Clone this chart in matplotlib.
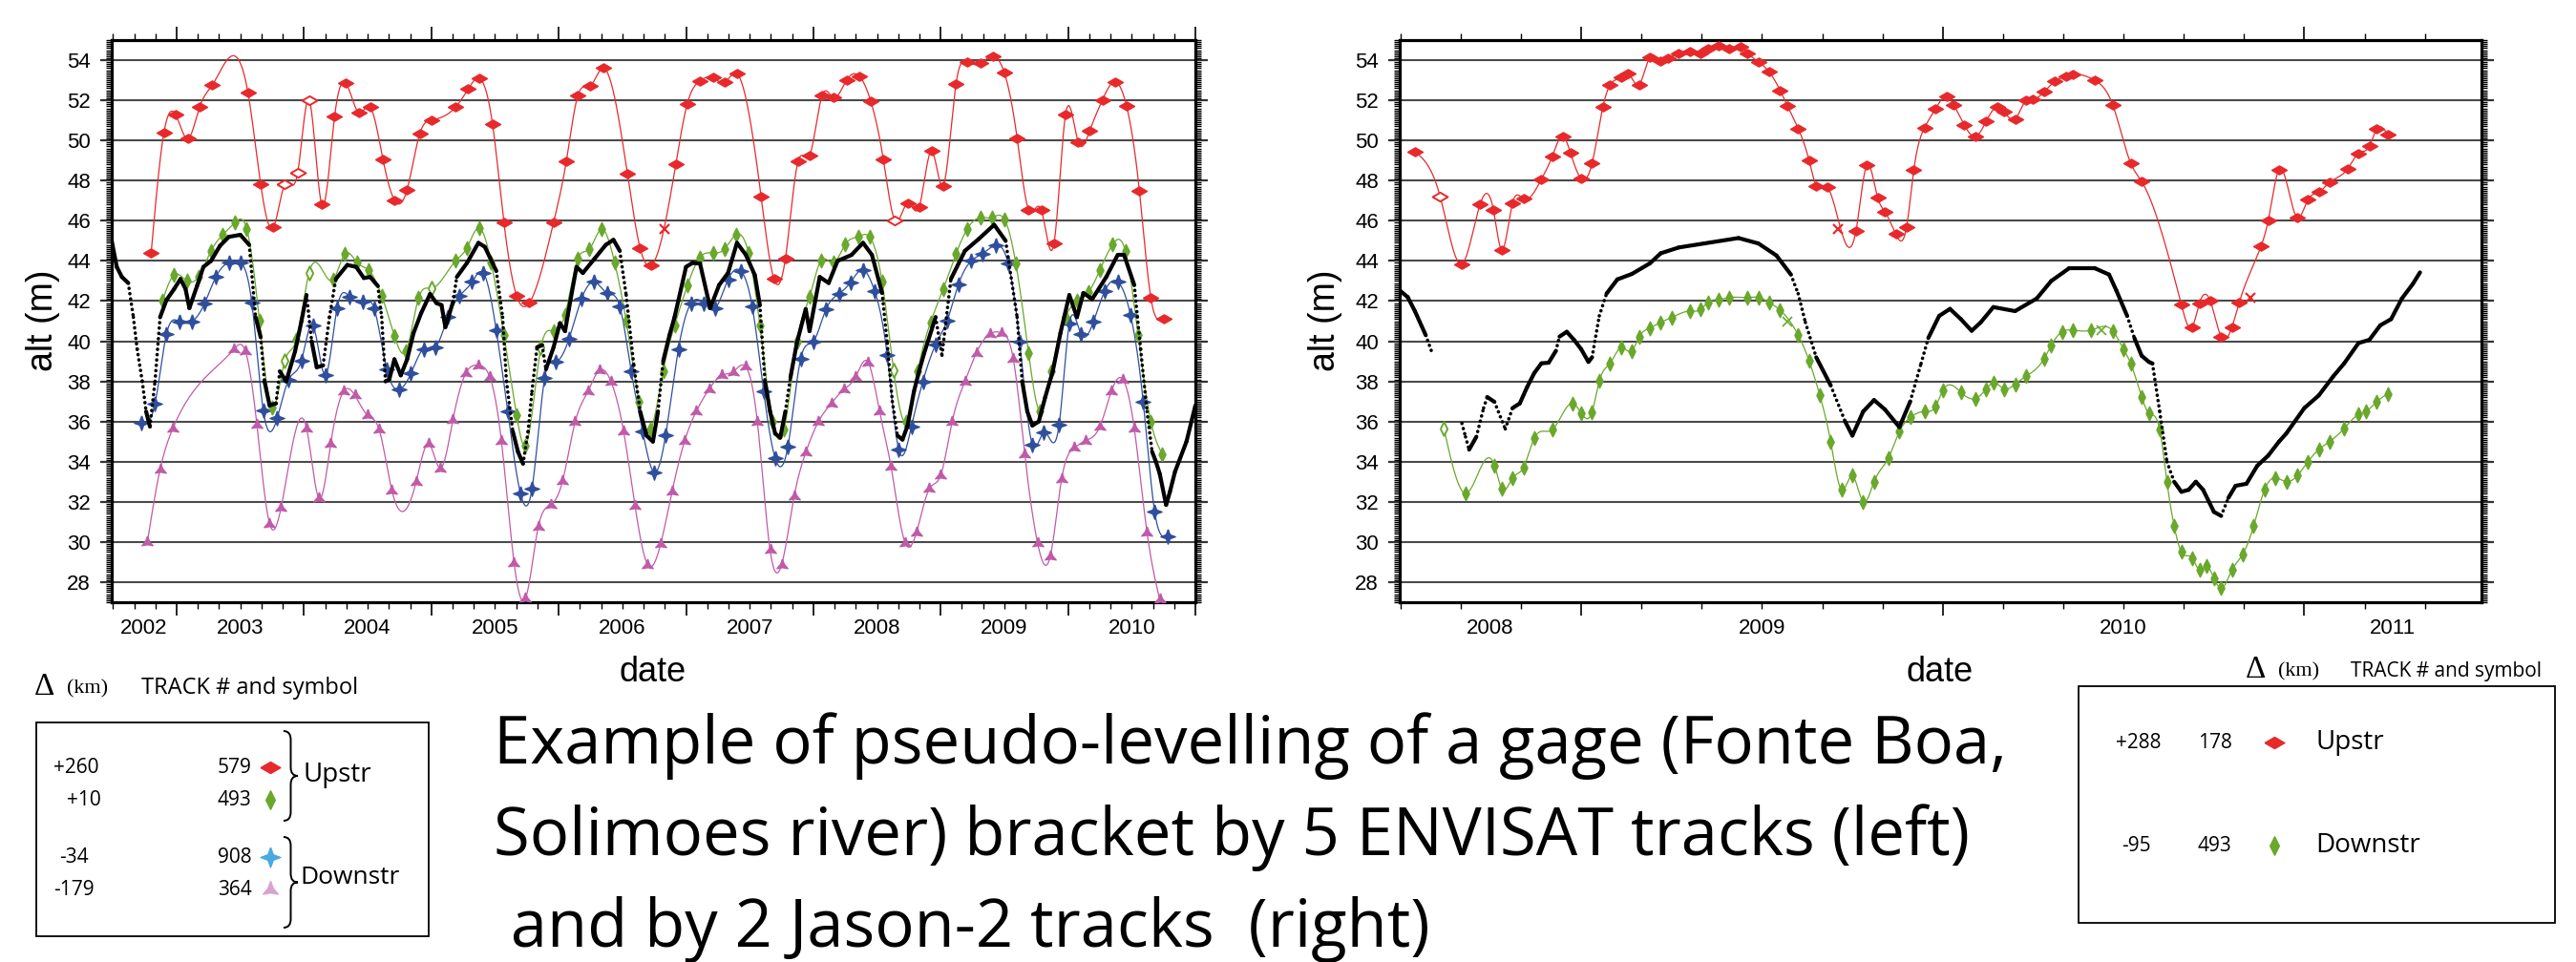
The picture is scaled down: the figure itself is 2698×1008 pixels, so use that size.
import numpy as np
import matplotlib
matplotlib.use("Agg")
import matplotlib.pyplot as plt
from matplotlib.path import Path
from matplotlib.patches import PathPatch, Rectangle
from matplotlib.ticker import MultipleLocator
import matplotlib.transforms as mtransforms

# ---------------- data (decimal year, altitude m) ----------------
red_L = [(2002.80,44.42),(2002.90,50.39),(2002.99,51.31),(2003.09,50.09),(2003.18,51.66),(2003.28,52.76),(2003.56,52.38),(2003.66,47.82),(2003.76,45.69),(2003.85,47.82),(2003.95,48.38),(2004.04,52.02),(2004.14,46.80),(2004.24,51.18),(2004.33,52.84),(2004.43,51.39),(2004.52,51.66),(2004.62,49.06),(2004.71,47.03),(2004.81,47.56),(2004.91,50.36),(2005.00,51.02),(2005.19,51.66),(2005.29,52.57),(2005.38,53.08),(2005.48,50.83),(2005.57,45.92),(2005.67,42.25),(2005.77,41.92),(2005.96,45.92),(2006.06,48.96),(2006.15,52.23),(2006.25,52.73),(2006.35,53.60),(2006.54,48.33),(2006.64,44.63),(2006.73,43.79),(2006.92,48.82),(2007.01,51.83),(2007.11,52.97),(2007.21,53.13),(2007.30,52.89),(2007.40,53.32),(2007.59,47.19),(2007.69,43.11),(2007.78,44.10),(2007.88,48.96),(2007.97,49.25),(2008.07,52.26),(2008.16,52.13),(2008.26,53.00),(2008.36,53.21),(2008.45,51.97),(2008.55,49.04),(2008.64,46.03),(2008.74,46.87),(2008.83,46.68),(2008.93,49.47),(2009.02,47.75),(2009.12,52.81),(2009.21,53.89),(2009.31,53.84),(2009.41,54.19),(2009.50,53.37),(2009.60,50.12),(2009.69,46.56),(2009.79,46.53),(2009.89,44.89),(2009.98,51.28),(2010.08,49.93),(2010.17,50.48),(2010.27,52.02),(2010.37,52.92),(2010.46,51.70),(2010.56,47.51),(2010.65,42.17),(2010.75,41.13)]
red_L_hollow = [2003.85, 2003.95, 2004.04, 2008.64]
red_L_cross = [(2006.83, 45.61)]

green_L = [(2002.89,42.04),(2002.98,43.31),(2003.08,43.0),(2003.17,43.2),(2003.27,44.50),(2003.36,45.29),(2003.46,45.92),(2003.55,45.60),(2003.65,41.02),(2003.75,36.70),(2003.85,39.04),(2003.94,40.07),(2004.04,43.42),(2004.23,43.07),(2004.32,44.34),(2004.42,43.90),(2004.51,43.52),(2004.61,42.28),(2004.71,40.27),(2004.80,39.51),(2004.90,42.15),(2005.00,42.63),(2005.19,44.0),(2005.28,44.66),(2005.38,45.64),(2005.47,43.90),(2005.57,40.3),(2005.67,36.3),(2005.74,34.8),(2005.86,39.67),(2005.96,40.5),(2006.05,41.33),(2006.15,44.10),(2006.24,44.58),(2006.34,45.58),(2006.44,43.9),(2006.53,41.02),(2006.63,37.0),(2006.72,35.6),(2006.82,38.5),(2006.91,40.78),(2007.01,42.76),(2007.11,44.18),(2007.21,44.4),(2007.30,44.58),(2007.39,45.29),(2007.49,44.42),(2007.58,40.78),(2007.68,36.0),(2007.77,35.6),(2007.87,39.99),(2007.97,42.2),(2008.06,44.02),(2008.16,43.90),(2008.25,44.82),(2008.35,45.21),(2008.44,45.21),(2008.54,42.95),(2008.63,38.56),(2008.73,36.0),(2008.82,38.5),(2008.92,40.94),(2009.02,42.6),(2009.12,44.34),(2009.21,45.61),(2009.31,46.16),(2009.40,46.16),(2009.50,46.08),(2009.59,43.87),(2009.69,39.43),(2009.78,36.5),(2009.87,38.5),(2009.98,41.2),(2010.07,42.0),(2010.16,42.44),(2010.25,43.55),(2010.35,44.82),(2010.45,44.50),(2010.55,40.30),(2010.65,36.0),(2010.74,34.37)]
green_L_hollow = [2003.85, 2004.04, 2005.00, 2005.86, 2008.63]

blue_L = [(2002.72,35.94),(2002.83,36.89),(2002.92,40.35),(2003.02,40.98),(2003.12,40.98),(2003.22,41.89),(2003.31,43.23),(2003.41,43.94),(2003.50,43.94),(2003.59,41.93),(2003.68,36.56),(2003.79,36.18),(2003.88,38.09),(2003.98,39.04),(2004.07,40.78),(2004.17,38.32),(2004.26,41.65),(2004.36,42.20),(2004.46,41.97),(2004.55,41.65),(2004.65,38.6),(2004.75,37.6),(2004.84,38.4),(2004.94,39.62),(2005.03,39.67),(2005.13,41.20),(2005.22,42.25),(2005.32,42.95),(2005.41,43.39),(2005.51,40.54),(2005.60,36.5),(2005.70,32.42),(2005.79,32.64),(2005.89,38.16),(2005.98,39.0),(2006.08,40.10),(2006.18,42.12),(2006.28,42.95),(2006.38,42.4),(2006.48,41.73),(2006.57,38.5),(2006.66,35.5),(2006.75,33.47),(2006.84,35.32),(2006.94,39.6),(2007.04,41.89),(2007.14,41.89),(2007.23,41.65),(2007.33,43.07),(2007.43,43.50),(2007.52,41.73),(2007.61,37.5),(2007.70,34.18),(2007.80,34.75),(2007.90,39.12),(2008.00,39.99),(2008.10,41.60),(2008.20,42.36),(2008.29,42.92),(2008.39,43.55),(2008.48,42.52),(2008.58,39.30),(2008.67,34.61),(2008.77,35.75),(2008.86,38.0),(2008.96,39.83),(2009.05,41.02),(2009.14,42.84),(2009.24,44.00),(2009.33,44.37),(2009.43,44.77),(2009.53,43.87),(2009.62,39.99),(2009.72,34.85),(2009.81,35.47),(2009.93,35.85),(2010.01,40.86),(2010.10,40.38),(2010.20,40.98),(2010.29,42.52),(2010.39,42.96),(2010.49,41.33),(2010.59,37.0),(2010.68,31.52),(2010.78,30.29)]

pink_L = [(2002.77,30.0),(2002.87,33.61),(2002.97,35.66),(2003.45,39.6),(2003.54,39.5),(2003.63,35.85),(2003.73,30.90),(2003.82,31.71),(2004.02,35.66),(2004.12,32.16),(2004.21,34.89),(2004.31,37.5),(2004.40,37.3),(2004.50,36.3),(2004.59,35.6),(2004.69,32.57),(2004.88,32.98),(2004.98,34.89),(2005.07,33.67),(2005.17,36.1),(2005.27,38.4),(2005.37,38.8),(2005.46,38.2),(2005.55,35.05),(2005.65,28.95),(2005.74,27.2),(2005.84,30.76),(2005.94,31.86),(2006.03,33.02),(2006.13,36.0),(2006.23,37.5),(2006.32,38.56),(2006.41,38.0),(2006.51,35.5),(2006.60,31.78),(2006.70,28.86),(2006.80,29.88),(2006.89,32.5),(2006.99,35.05),(2007.08,36.5),(2007.18,37.6),(2007.28,38.3),(2007.37,38.48),(2007.47,38.72),(2007.56,36.0),(2007.66,29.6),(2007.75,28.86),(2007.85,32.3),(2007.94,34.45),(2008.04,36.0),(2008.14,36.9),(2008.24,37.6),(2008.33,38.2),(2008.43,38.95),(2008.52,36.5),(2008.61,33.75),(2008.72,29.97),(2008.81,30.48),(2008.91,32.64),(2009.00,33.32),(2009.09,36.0),(2009.19,38.0),(2009.28,39.43),(2009.39,40.38),(2009.48,40.41),(2009.57,39.12),(2009.66,34.37),(2009.76,29.97),(2009.86,29.28),(2009.95,33.15),(2010.05,34.70),(2010.14,35.05),(2010.25,35.75),(2010.34,37.5),(2010.43,38.1),(2010.52,35.66),(2010.62,30.48),(2010.72,27.13)]

gage_L = [(2002.49,45.0),(2002.53,43.7),(2002.57,43.2),(2002.62,42.9),(2002.66,41.2),(2002.69,39.6),(2002.73,38.0),(2002.76,36.5),(2002.79,35.75),(2002.83,38.0),(2002.87,41.2),(2002.92,42.05),(2002.98,42.6),(2003.03,43.1),(2003.07,42.6),(2003.10,41.65),(2003.16,42.75),(2003.21,43.7),(2003.27,44.0),(2003.34,44.75),(2003.41,45.2),(2003.50,45.3),(2003.57,44.8),(2003.62,41.2),(2003.66,40.2),(2003.69,38.0),(2003.73,36.8),(2003.78,36.9),(2003.81,38.5),(2003.86,38.0),(2003.93,39.5),(2003.98,41.0),(2004.02,42.3),(2004.06,40.0),(2004.10,38.7),(2004.15,38.8),(2004.20,41.2),(2004.25,43.1),(2004.34,43.8),(2004.41,43.7),(2004.47,43.15),(2004.52,43.2),(2004.58,42.75),(2004.61,41.2),(2004.64,38.0),(2004.67,38.1),(2004.71,39.1),(2004.76,38.3),(2004.81,39.1),(2004.86,40.4),(2004.92,41.4),(2004.99,42.35),(2005.04,41.9),(2005.08,41.8),(2005.11,40.7),(2005.17,41.95),(2005.20,43.2),(2005.28,43.9),(2005.37,44.9),(2005.42,44.7),(2005.51,43.5),(2005.56,41.2),(2005.59,38.0),(2005.64,35.5),(2005.68,34.5),(2005.72,33.9),(2005.76,35.5),(2005.79,37.5),(2005.83,39.7),(2005.87,39.8),(2005.90,38.6),(2005.96,39.7),(2006.01,40.9),(2006.05,40.5),(2006.08,41.6),(2006.14,43.7),(2006.19,43.4),(2006.28,44.1),(2006.37,44.8),(2006.43,45.05),(2006.48,44.5),(2006.53,42.3),(2006.59,38.8),(2006.64,36.5),(2006.69,35.3),(2006.74,35.0),(2006.78,36.5),(2006.82,39.0),(2006.87,40.3),(2006.91,41.2),(2007.00,43.7),(2007.05,43.9),(2007.11,43.87),(2007.19,41.65),(2007.26,42.8),(2007.33,43.4),(2007.40,44.9),(2007.47,44.3),(2007.54,43.3),(2007.58,41.8),(2007.62,38.0),(2007.66,36.5),(2007.70,35.4),(2007.74,35.2),(2007.78,36.5),(2007.82,38.2),(2007.87,39.9),(2007.94,41.6),(2007.97,40.5),(2008.05,43.2),(2008.12,42.9),(2008.19,44.0),(2008.30,44.3),(2008.39,44.9),(2008.46,44.3),(2008.54,42.4),(2008.58,39.9),(2008.62,37.0),(2008.66,35.3),(2008.70,35.1),(2008.74,35.8),(2008.79,37.5),(2008.83,38.5),(2008.87,39.4),(2008.96,41.2),(2009.01,39.3),(2009.08,43.1),(2009.19,44.5),(2009.30,45.1),(2009.42,45.8),(2009.51,45.0),(2009.60,41.2),(2009.64,38.0),(2009.68,36.5),(2009.72,35.8),(2009.77,36.0),(2009.82,37.2),(2009.88,38.5),(2009.94,40.4),(2010.01,42.3),(2010.07,41.2),(2010.12,42.4),(2010.19,42.1),(2010.30,43.2),(2010.39,44.3),(2010.44,44.3),(2010.52,42.8),(2010.57,39.6),(2010.62,36.5),(2010.66,34.5),(2010.69,34.0),(2010.72,33.4),(2010.77,31.85),(2010.80,32.5),(2010.84,33.5),(2010.93,35.0),(2011.0,36.8)]

red_R = [(2008.54,49.45),(2008.61,47.2),(2008.67,43.85),(2008.72,46.8),(2008.757,46.56),(2008.78,44.55),(2008.81,46.88),(2008.84,47.09),(2008.89,48.07),(2008.92,49.21),(2008.95,50.2),(2008.97,49.4),(2009.00,48.1),(2009.03,48.86),(2009.06,51.67),(2009.08,52.77),(2009.11,53.13),(2009.13,53.32),(2009.16,52.78),(2009.19,54.16),(2009.22,53.95),(2009.24,54.08),(2009.27,54.32),(2009.30,54.44),(2009.33,54.35),(2009.35,54.59),(2009.38,54.71),(2009.41,54.55),(2009.44,54.66),(2009.46,54.35),(2009.49,53.92),(2009.52,53.41),(2009.55,52.50),(2009.57,51.74),(2009.60,50.6),(2009.63,49.02),(2009.65,47.75),(2009.68,47.67),(2009.76,45.5),(2009.79,48.78),(2009.82,47.15),(2009.84,46.45),(2009.87,45.34),(2009.90,45.7),(2009.92,48.54),(2009.95,50.65),(2009.98,51.58),(2010.01,52.18),(2010.03,51.78),(2010.06,50.76),(2010.09,50.2),(2010.12,50.95),(2010.15,51.66),(2010.17,51.42),(2010.20,51.07),(2010.23,51.99),(2010.25,52.05),(2010.28,52.42),(2010.31,52.94),(2010.34,53.21),(2010.36,53.29),(2010.42,53.0),(2010.47,51.78),(2010.52,48.86),(2010.55,47.96),(2010.66,41.82),(2010.69,40.71),(2010.71,41.9),(2010.74,42.0),(2010.77,40.23),(2010.80,40.71),(2010.82,41.93),(2010.88,44.72),(2010.90,46.0),(2010.93,48.54),(2010.98,46.17),(2011.01,47.04),(2011.04,47.43),(2011.07,47.91),(2011.12,48.59),(2011.15,49.36),(2011.18,49.72),(2011.20,50.57),(2011.23,50.31)]
red_R_hollow = [2008.61]
red_R_cross = [(2009.71,45.57),(2010.85,42.18)]

green_R = [(2008.62,35.67),(2008.68,32.42),(2008.76,33.82),(2008.78,32.67),(2008.81,33.18),(2008.84,33.70),(2008.87,35.16),(2008.92,35.59),(2008.975,36.90),(2009.00,36.43),(2009.03,36.48),(2009.05,38.02),(2009.08,38.9),(2009.11,39.68),(2009.14,39.52),(2009.16,40.2),(2009.19,40.66),(2009.22,40.94),(2009.25,41.18),(2009.30,41.5),(2009.33,41.58),(2009.35,41.93),(2009.38,42.08),(2009.41,42.18),(2009.46,42.18),(2009.49,42.18),(2009.52,41.93),(2009.55,41.55),(2009.60,40.31),(2009.63,39.04),(2009.66,37.3),(2009.69,35.0),(2009.72,32.6),(2009.75,33.3),(2009.78,32.0),(2009.81,33.0),(2009.85,34.2),(2009.88,35.5),(2009.91,36.2),(2009.95,36.5),(2009.98,36.75),(2010.00,37.54),(2010.05,37.46),(2010.09,37.14),(2010.12,37.62),(2010.14,37.94),(2010.17,37.62),(2010.20,37.86),(2010.23,38.25),(2010.28,39.12),(2010.30,39.79),(2010.33,40.47),(2010.36,40.55),(2010.41,40.55),(2010.47,40.52),(2010.50,39.6),(2010.52,38.89),(2010.55,37.22),(2010.57,36.43),(2010.60,35.6),(2010.62,33.0),(2010.64,30.8),(2010.66,29.5),(2010.69,29.2),(2010.71,28.6),(2010.73,28.8),(2010.75,28.2),(2010.77,27.7),(2010.80,28.6),(2010.83,29.4),(2010.86,30.8),(2010.89,32.6),(2010.92,33.2),(2010.95,33.0),(2010.98,33.3),(2011.01,34.0),(2011.04,34.6),(2011.07,35.0),(2011.11,35.65),(2011.15,36.35),(2011.17,36.5),(2011.20,36.98),(2011.23,37.38)]
green_R_hollow = [2008.62]
green_R_cross = [(2009.57,41.0),(2010.44,40.55)]

gage_R = [(2008.50,42.5),(2008.52,42.2),(2008.54,41.5),(2008.57,40.3),(2008.59,39.3),(2008.63,np.nan),(2008.67,35.91),(2008.68,35.24),(2008.69,34.6),(2008.71,35.24),(2008.73,36.67),(2008.74,37.22),(2008.76,36.98),(2008.79,35.63),(2008.81,36.67),(2008.83,36.9),(2008.85,37.7),(2008.87,38.41),(2008.89,38.9),(2008.91,38.93),(2008.93,39.52),(2008.94,40.23),(2008.96,40.47),(2008.98,40.07),(2009.00,39.6),(2009.02,38.97),(2009.03,39.2),(2009.05,41.26),(2009.07,42.37),(2009.10,43.08),(2009.14,43.35),(2009.19,43.88),(2009.22,44.38),(2009.27,44.67),(2009.34,44.87),(2009.435,45.14),(2009.49,44.87),(2009.54,44.27),(2009.58,43.32),(2009.60,42.37),(2009.62,40.94),(2009.65,39.2),(2009.69,37.8),(2009.73,36.0),(2009.75,35.3),(2009.78,36.5),(2009.81,37.07),(2009.84,36.6),(2009.88,35.72),(2009.91,37.0),(2009.94,38.89),(2009.96,40.16),(2009.99,41.26),(2010.02,41.61),(2010.05,41.1),(2010.08,40.52),(2010.105,40.94),(2010.14,41.7),(2010.20,41.5),(2010.26,42.13),(2010.30,43.0),(2010.35,43.64),(2010.42,43.64),(2010.46,43.32),(2010.48,42.53),(2010.51,41.26),(2010.53,40.16),(2010.55,39.28),(2010.57,38.97),(2010.58,38.89),(2010.60,36.5),(2010.62,34.0),(2010.64,33.0),(2010.66,32.5),(2010.68,32.6),(2010.70,33.0),(2010.72,32.6),(2010.75,31.5),(2010.77,31.3),(2010.79,32.2),(2010.81,32.8),(2010.84,32.9),(2010.87,33.8),(2010.90,34.3),(2010.93,35.0),(2010.95,35.4),(2011.0,36.67),(2011.04,37.3),(2011.08,38.25),(2011.11,38.89),(2011.15,39.91),(2011.18,40.07),(2011.21,40.79),(2011.24,41.10),(2011.27,42.13),(2011.30,42.85),(2011.32,43.43)]

years_L = [2002, 2003, 2004, 2005, 2006, 2007, 2008, 2009, 2010]
years_R = [2008, 2009, 2010, 2011]
y_ticks = list(range(28, 55, 2))

title_lines = ["Example of pseudo-levelling of a gage (Fonte Boa,",
               "Solimoes river) bracket by 5 ENVISAT tracks (left)",
               " and by 2 Jason-2 tracks  (right)"]
legL_rows = [("+260", "579"), ("+10", "493"), ("-34", "908"), ("-179", "364")]
legR_rows = [("+288", "178", "Upstr"), ("-95", "493", "Downstr")]

# ---------------- style ----------------
RED = "#e8292b"; GREEN = "#69a82b"; BLUE = "#2f4f9d"; PINK = "#c05aa9"
LBLUE = "#49a9e0"; LPINK = "#d7a3d2"
W, H = 2698, 1008
TICKFONT = "Liberation Sans"
TXTFONT = "Open Sans"

DIAM_H = [(-1, 0), (0, 0.58), (1, 0), (0, -0.58), (-1, 0)]
DIAM_V = [(-0.5, 0), (0, 1), (0.5, 0), (0, -1), (-0.5, 0)]
STAR4 = [(0, 1), (0.27, 0.27), (1, 0), (0.27, -0.27), (0, -1), (-0.27, -0.27), (-1, 0), (-0.27, 0.27), (0, 1)]
TRI3 = []
for k in range(3):
    a = np.deg2rad(90 + 120 * k)
    b = np.deg2rad(150 + 120 * k)
    TRI3.append((np.cos(a), np.sin(a)))
    TRI3.append((0.35 * np.cos(b), 0.35 * np.sin(b)))
TRI3.append(TRI3[0])


def natural_spline(x, y, n=30):
    x = np.asarray(x, float); y = np.asarray(y, float)
    N = len(x); h = np.diff(x)
    A = np.zeros((N, N)); b = np.zeros(N)
    A[0, 0] = 1; A[-1, -1] = 1
    for i in range(1, N - 1):
        A[i, i - 1] = h[i - 1]; A[i, i] = 2 * (h[i - 1] + h[i]); A[i, i + 1] = h[i]
        b[i] = 6 * ((y[i + 1] - y[i]) / h[i] - (y[i] - y[i - 1]) / h[i - 1])
    M = np.linalg.solve(A, b)
    xs, ys = [], []
    for i in range(N - 1):
        t = np.linspace(x[i], x[i + 1], n, endpoint=False)
        a = x[i + 1] - t; c = t - x[i]
        s = (M[i] * a ** 3 + M[i + 1] * c ** 3) / (6 * h[i]) \
            + (y[i] / h[i] - M[i] * h[i] / 6) * a + (y[i + 1] / h[i] - M[i + 1] * h[i] / 6) * c
        xs.append(t); ys.append(s)
    xs.append([x[-1]]); ys.append([y[-1]])
    return np.concatenate(xs), np.concatenate(ys)


def draw_series(ax, pts, color, marker, ms, hollow=()):
    x = np.array([p[0] for p in pts]); y = np.array([p[1] for p in pts])
    sx, sy = natural_spline(x, y)
    ax.plot(sx, sy, color=color, lw=0.9, zorder=3)
    hol = np.isin(np.round(x, 3), np.round(np.array(hollow, float), 3)) if len(hollow) else np.zeros(len(x), bool)
    ax.plot(x[~hol], y[~hol], ls="none", marker=marker, ms=ms, mfc=color, mec=color, mew=1.0, zorder=4)
    if hol.any():
        ax.plot(x[hol], y[hol], ls="none", marker=marker, ms=ms, mfc="white", mec=color, mew=1.4, zorder=4)


def draw_gage(ax, pts, thr):
    x = np.array([p[0] for p in pts]); y = np.array([p[1] for p in pts])
    for i in range(len(x) - 1):
        if np.isnan(y[i]) or np.isnan(y[i + 1]):
            continue
        slope = abs((y[i + 1] - y[i]) / (x[i + 1] - x[i]))
        if slope > thr:
            ax.plot(x[i:i + 2], y[i:i + 2], color="black", lw=2.6, ls=(0, (0.05, 1.5)),
                    dash_capstyle="round", zorder=5)
        else:
            ax.plot(x[i:i + 2], y[i:i + 2], color="black", lw=3.0, solid_capstyle="round", zorder=5)


def style_axes(ax, xlim, year_list, year_pos):
    ax.set_ylim(27, 55)
    ax.set_yticks(y_ticks)
    ax.yaxis.set_minor_locator(MultipleLocator(0.1))
    ax.set_xticks(np.arange(int(xlim[0]), int(xlim[1]) + 2))
    ax.xaxis.set_minor_locator(MultipleLocator(1 / 6))
    ax.set_xlim(*xlim)
    ax.set_xticklabels([])
    ax.tick_params(axis="y", which="major", direction="out", length=9, width=1.6,
                   left=True, right=True, labelsize=16, pad=7, color="#333333")
    ax.tick_params(axis="y", which="minor", direction="out", length=4, width=1.0, left=True, right=True)
    ax.tick_params(axis="x", which="major", direction="out", length=10, width=1.2, top=True, bottom=True)
    ax.tick_params(axis="x", which="minor", direction="out", length=5, width=1.0, top=True, bottom=True)
    for lab in ax.get_yticklabels():
        lab.set_fontfamily(TICKFONT)
    for sp in ax.spines.values():
        sp.set_linewidth(2.3)
    ax.set_axisbelow(True)
    ax.grid(axis="y", which="major", color="#4a4a4a", lw=1.5)
    ax.grid(axis="x", visible=False)
    trans = mtransforms.offset_copy(ax.get_xaxis_transform(), fig=ax.figure, y=-27, units="dots")
    for yr, xp in zip(year_list, year_pos):
        ax.text(xp, 0, str(yr), transform=trans, ha="center", va="center",
                fontsize=16, family=TICKFONT)


fig = plt.figure(figsize=(W / 100, H / 100), dpi=100)
axL = fig.add_axes([117 / W, (H - 631) / H, (1252 - 117) / W, (631 - 42) / H])
axR = fig.add_axes([1466 / W, (H - 631) / H, (2599 - 1466) / W, (631 - 42) / H])

xlimL = (2002.49, 2011.0)
xlimR = (2008.498, 2011.49)
posL = [(max(y, xlimL[0]) + min(y + 1, xlimL[1])) / 2 for y in years_L]
posR = [(max(y, xlimR[0]) + min(y + 1, xlimR[1])) / 2 for y in years_R]
style_axes(axL, xlimL, years_L, posL)
style_axes(axR, xlimR, years_R, posR)

# left panel
draw_gage(axL, gage_L, 38)
draw_series(axL, pink_L, PINK, TRI3, 9.5)
draw_series(axL, blue_L, BLUE, STAR4, 11)
draw_series(axL, green_L, GREEN, DIAM_V, 10.5, green_L_hollow)
draw_series(axL, red_L, RED, DIAM_H, 11.5, red_L_hollow)
axL.plot([p[0] for p in red_L_cross], [p[1] for p in red_L_cross], ls="none", marker="x",
         ms=7, mec=RED, mew=1.6, zorder=4)

# right panel
draw_gage(axR, gage_R, 45)
draw_series(axR, green_R, GREEN, DIAM_V, 10.5, green_R_hollow)
draw_series(axR, red_R, RED, DIAM_H, 11.5, red_R_hollow)
axR.plot([p[0] for p in red_R_cross], [p[1] for p in red_R_cross], ls="none", marker="x",
         ms=7, mec=RED, mew=1.6, zorder=4)
axR.plot([p[0] for p in green_R_cross], [p[1] for p in green_R_cross], ls="none", marker="x",
         ms=7, mec=GREEN, mew=1.2, zorder=4)

# ---------------- overlay in pixel coordinates ----------------
ov = fig.add_axes([0, 0, 1, 1])
ov.set_xlim(0, W); ov.set_ylim(H, 0); ov.axis("off")

ov.text(45, 336, "alt (m)", rotation=90, ha="center", va="center", fontsize=27, family=TICKFONT)
ov.text(1388, 336, "alt (m)", rotation=90, ha="center", va="center", fontsize=27, family=TICKFONT)
ov.text(684, 704, "date", ha="center", va="center", fontsize=26, family=TICKFONT)
ov.text(2032, 704, "date", ha="center", va="center", fontsize=26, family=TICKFONT)

for i, line in enumerate(title_lines):
    ov.text(517, 800 + i * 96, line, ha="left", va="baseline", fontsize=49.5, family=TXTFONT)


def brace(x, y0, y1, w, lw=1.4):
    ym = (y0 + y1) / 2; r = w * 0.6
    verts = [(x, y0), (x + w / 2, y0), (x + w / 2, y0 + r),
             (x + w / 2, ym - r),
             (x + w / 2, ym), (x + w, ym),
             (x + w / 2, ym), (x + w / 2, ym + r),
             (x + w / 2, y1 - r),
             (x + w / 2, y1), (x, y1)]
    codes = [Path.MOVETO, Path.CURVE3, Path.CURVE3, Path.LINETO, Path.CURVE3, Path.CURVE3,
             Path.CURVE3, Path.CURVE3, Path.LINETO, Path.CURVE3, Path.CURVE3]
    ov.add_patch(PathPatch(Path(verts, codes), fill=False, lw=lw, color="black"))


# left legend
ov.text(36, 720, "\u0394", fontsize=24, family="Liberation Serif", va="center", ha="left")
ov.text(70, 722, "(km)", fontsize=16, family="Liberation Serif", va="center", ha="left")
ov.text(148, 721, "TRACK # and symbol", fontsize=17, family=TXTFONT, va="center", ha="left")
ov.add_patch(Rectangle((38, 757), 449 - 38, 981 - 757, fill=False, lw=1.3, ec="black"))
rows_y = [804, 838, 898, 932]
num_x = [56, 70, 62, 56]
leg_markers = [(DIAM_H, RED, 15), (DIAM_V, GREEN, 14), (STAR4, LBLUE, 15), (TRI3, LPINK, 13)]
for (d, t), yy, nx, (mk, col, ms), in zip(legL_rows, rows_y, num_x, leg_markers):
    ov.text(nx, yy, d, fontsize=15, family=TXTFONT, va="center", ha="left")
    ov.text(228, yy, t, fontsize=15, family=TXTFONT, va="center", ha="left")
    ov.plot([283], [yy], marker=mk, ms=ms, mfc=col, mec=col, ls="none")
brace(297, 766, 860, 15)
brace(297, 877, 972, 15)
ov.text(318, 812, "Upstr", fontsize=20, family=TXTFONT, va="center", ha="left")
ov.text(314, 920, "Downstr", fontsize=19, family=TXTFONT, va="center", ha="left")

# right legend
ov.text(2352, 702, "\u0394", fontsize=24, family="Liberation Serif", va="center", ha="left")
ov.text(2386, 704, "(km)", fontsize=16, family="Liberation Serif", va="center", ha="left")
ov.text(2462, 703, "TRACK # and symbol", fontsize=15, family=TXTFONT, va="center", ha="left")
ov.add_patch(Rectangle((2177, 719), 2676 - 2177, 967 - 719, fill=False, lw=1.3, ec="black"))
for (d, t, lab), yy, (mk, col, ms), nx in zip(legR_rows, [778, 886], [(DIAM_H, RED, 15), (DIAM_V, GREEN, 14)], [2216, 2222]):
    ov.text(nx, yy, d, fontsize=15, family=TXTFONT, va="center", ha="left")
    ov.text(2302, yy, t, fontsize=15, family=TXTFONT, va="center", ha="left")
    ov.plot([2382], [yy], marker=mk, ms=ms, mfc=col, mec=col, ls="none")
    ov.text(2425, yy, lab, fontsize=20, family=TXTFONT, va="center", ha="left")

fig.savefig("out.png", dpi=100)
